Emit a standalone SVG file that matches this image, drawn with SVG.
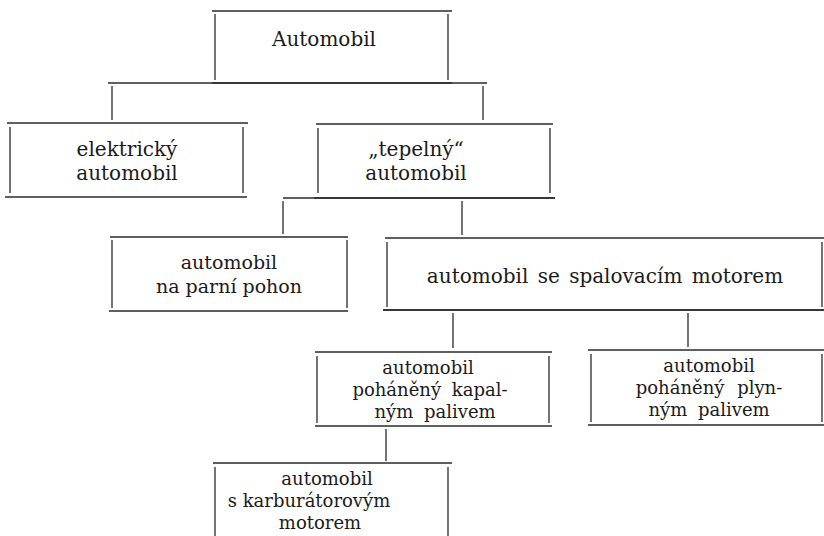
<svg xmlns="http://www.w3.org/2000/svg" width="824" height="536" viewBox="0 0 824 536">
<style>
line{stroke:#2a2a2a;stroke-width:1.3;fill:none}
text{font-family:"DejaVu Serif","Liberation Serif",serif;font-size:20px;fill:#1a1a1a;text-anchor:middle}
.s{font-size:18px}
.m{font-size:19px}
</style>
<rect width="824" height="536" fill="#ffffff"/>
<g id="connectors">
<line x1="108" y1="83" x2="487" y2="83"/>
<line x1="112" y1="86" x2="112" y2="120"/>
<line x1="483" y1="86" x2="483" y2="120"/>
<line x1="283" y1="198" x2="555" y2="198"/>
<line x1="283" y1="201" x2="283" y2="234"/>
<line x1="462" y1="201" x2="462" y2="235"/>
<line x1="383" y1="310" x2="824" y2="310"/>
<line x1="453" y1="313" x2="453" y2="348"/>
<line x1="688" y1="313" x2="688" y2="347"/>
<line x1="386" y1="429" x2="386" y2="461"/>
</g>
<g id="n-automobil">
<line x1="212" y1="11" x2="452" y2="11"/>
<line x1="215" y1="14" x2="215" y2="80"/>
<line x1="448" y1="14" x2="448" y2="80"/>
<line x1="212" y1="83" x2="452" y2="83"/>
<text x="324" y="46">Automobil</text>
</g>
<g id="n-elektricky">
<line x1="7" y1="123" x2="248" y2="123"/>
<line x1="10" y1="127" x2="10" y2="193"/>
<line x1="243" y1="127" x2="243" y2="193"/>
<line x1="5" y1="197" x2="247" y2="197"/>
<text x="127" y="156">elektrický</text>
<text x="127" y="180">automobil</text>
</g>
<g id="n-tepelny">
<line x1="316" y1="124" x2="553" y2="124"/>
<line x1="318" y1="128" x2="318" y2="193"/>
<line x1="550" y1="128" x2="550" y2="193"/>
<line x1="314" y1="198" x2="555" y2="198"/>
<text x="416" y="156">„tepelný“</text>
<text x="416" y="180">automobil</text>
</g>
<g id="n-parni">
<line x1="110" y1="237" x2="348" y2="237"/>
<line x1="112" y1="240" x2="112" y2="308"/>
<line x1="347" y1="240" x2="347" y2="308"/>
<line x1="109" y1="311" x2="348" y2="311"/>
<text class="m" x="229" y="269">automobil</text>
<text class="m" x="229" y="293">na parní pohon</text>
</g>
<g id="n-spalovaci">
<line x1="385" y1="238" x2="824" y2="238"/>
<line x1="387" y1="242" x2="387" y2="307"/>
<line x1="822" y1="242" x2="822" y2="307"/>
<line x1="383" y1="310" x2="824" y2="310"/>
<text x="605" y="283" word-spacing="3">automobil se spalovacím motorem</text>
</g>
<g id="n-kapalny">
<line x1="315" y1="352" x2="552" y2="352"/>
<line x1="317" y1="356" x2="317" y2="423"/>
<line x1="549" y1="356" x2="549" y2="423"/>
<line x1="315" y1="426" x2="552" y2="426"/>
<text class="s" x="428" y="374">automobil</text>
<text class="s" x="430" y="396" word-spacing="5">poháněný kapal-</text>
<text class="s" x="435" y="418" word-spacing="5">ným palivem</text>
</g>
<g id="n-plynny">
<line x1="588" y1="350" x2="824" y2="350"/>
<line x1="591" y1="354" x2="591" y2="422"/>
<line x1="822" y1="354" x2="822" y2="422"/>
<line x1="588" y1="425" x2="824" y2="425"/>
<text class="s" x="709" y="372">automobil</text>
<text class="s" x="709" y="394" word-spacing="7">poháněný plyn-</text>
<text class="s" x="709" y="416" word-spacing="5">ným palivem</text>
</g>
<g id="n-karburator">
<line x1="213" y1="463" x2="452" y2="463"/>
<line x1="215" y1="467" x2="215" y2="536"/>
<line x1="448" y1="467" x2="448" y2="536"/>
<text class="s" x="327" y="485">automobil</text>
<text class="s" x="309" y="507">s karburátorovým</text>
<text class="s" x="320" y="529">motorem</text>
</g>
</svg>
